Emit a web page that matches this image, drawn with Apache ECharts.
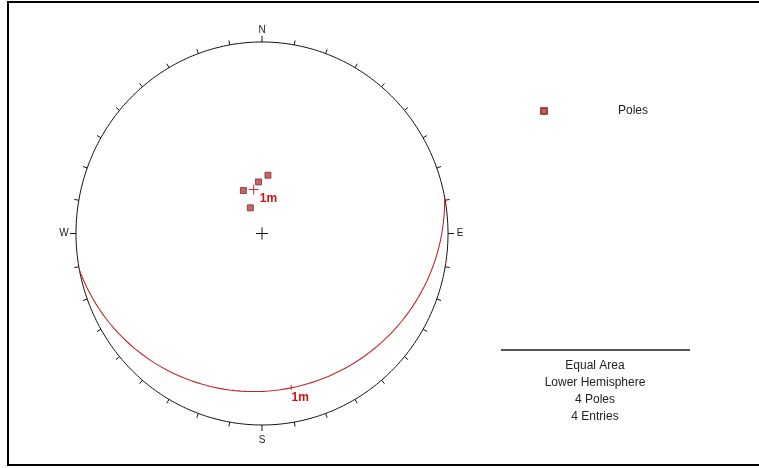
<!DOCTYPE html>
<html>
<head>
<meta charset="utf-8">
<script src="https://cdn.jsdelivr.net/npm/echarts@6/dist/echarts.min.js"></script>
<style>
  html, body { margin: 0; padding: 0; background: #fff; }
  #chart { width: 759px; height: 468px; }
</style>
</head>
<body>
<div id="chart"></div>
<script>
// Pole orientations (degrees): trend and plunge of each pole
const poleTrend = [6, 356, 336, 335];
const polePlunge = [65, 68, 70, 78];

// Mean pole set "1m" (trend, plunge) and its label
const meanPole = [349, 71];
const meanLabel = '1m';

// Net ticks and cardinal labels
const tickAzimuths = [0, 10, 20, 30, 40, 50, 60, 70, 80, 90, 100, 110, 120, 130, 140, 150, 160, 170,
                      180, 190, 200, 210, 220, 230, 240, 250, 260, 270, 280, 290, 300, 310, 320, 330, 340, 350];
const cardinalNames = ['N', 'E', 'S', 'W'];
const cardinalAzimuths = [0, 90, 180, 270];

// Information block
const infoLines = ['Equal Area', 'Lower Hemisphere', '4 Poles', '4 Entries'];

const RAD = Math.PI / 180;
const FONT = '"Liberation Sans", Arial, sans-serif';

// Lambert equal-area projection, lower hemisphere, primitive radius = 1
function projectLine(trend, plunge) {
  const r = Math.sqrt(1 - Math.sin(plunge * RAD));
  return [r * Math.sin(trend * RAD), r * Math.cos(trend * RAD)];
}

// Project a direction vector (east, north, down)
function projectVector(e, n, d) {
  const h = Math.sqrt(e * e + n * n);
  const r = Math.sqrt(Math.max(0, 1 - d));
  if (h < 1e-9) return [0, 0];
  return [r * e / h, r * n / h];
}

const polePoints = poleTrend.map((t, i) => projectLine(t, polePlunge[i]));
const meanPoint = projectLine(meanPole[0], meanPole[1]);

// Great circle of the plane whose pole is the mean pole
const dipDir = (meanPole[0] + 180) % 360;
const dip = 90 - meanPole[1];
const strikeAz = dipDir - 90;
const greatCircle = [];
for (let t = 0; t <= 180; t += 2) {
  const c = Math.cos(t * RAD), s = Math.sin(t * RAD);
  const e = c * Math.sin(strikeAz * RAD) + s * Math.sin(dipDir * RAD) * Math.cos(dip * RAD);
  const n = c * Math.cos(strikeAz * RAD) + s * Math.cos(dipDir * RAD) * Math.cos(dip * RAD);
  const d = s * Math.sin(dip * RAD);
  greatCircle.push(projectVector(e, n, d));
}
const dipPoint = projectVector(Math.sin(dipDir * RAD) * Math.cos(dip * RAD),
                               Math.cos(dipDir * RAD) * Math.cos(dip * RAD),
                               Math.sin(dip * RAD));

const chart = echarts.init(document.getElementById('chart'), null, { renderer: 'canvas' });

function renderNet(params, api) {
  const children = [];
  // primitive circle
  const ring = [];
  for (let a = 0; a <= 360; a += 1) {
    ring.push(api.coord([Math.sin(a * RAD), Math.cos(a * RAD)]));
  }
  children.push({ type: 'polyline', shape: { points: ring },
    style: { stroke: '#111', lineWidth: 1, fill: null } });
  // ticks
  tickAzimuths.forEach(a => {
    const p = api.coord([Math.sin(a * RAD), Math.cos(a * RAD)]);
    const dx = Math.sin(a * RAD), dy = -Math.cos(a * RAD);
    const isCardinal = cardinalAzimuths.indexOf(a) >= 0;
    const len = isCardinal ? 6 : 4.5;
    children.push({ type: 'line',
      shape: { x1: p[0], y1: p[1], x2: p[0] + dx * len, y2: p[1] + dy * len },
      style: { stroke: '#111', lineWidth: 1 } });
  });
  // cardinal labels
  cardinalAzimuths.forEach((a, i) => {
    const p = api.coord([Math.sin(a * RAD), Math.cos(a * RAD)]);
    const dx = Math.sin(a * RAD), dy = -Math.cos(a * RAD);
    const off = a === 180 ? 15 : 12;
    children.push({ type: 'text',
      style: { text: cardinalNames[i], x: p[0] + dx * off, y: p[1] + dy * off,
               align: 'center', verticalAlign: 'middle',
               font: '10px ' + FONT, fill: '#222' } });
  });
  // centre cross
  const c = api.coord([0, 0]);
  children.push({ type: 'line', shape: { x1: c[0] - 6, y1: c[1], x2: c[0] + 6, y2: c[1] },
    style: { stroke: '#111', lineWidth: 1 } });
  children.push({ type: 'line', shape: { x1: c[0], y1: c[1] - 6, x2: c[0], y2: c[1] + 6 },
    style: { stroke: '#111', lineWidth: 1 } });
  return { type: 'group', children: children };
}

function renderMean(params, api) {
  const m = api.coord(meanPoint);
  const g = api.coord(dipPoint);
  return { type: 'group', children: [
    { type: 'line', shape: { x1: m[0] - 5, y1: m[1], x2: m[0] + 5, y2: m[1] },
      style: { stroke: '#c02828', lineWidth: 1 } },
    { type: 'line', shape: { x1: m[0], y1: m[1] - 5, x2: m[0], y2: m[1] + 5 },
      style: { stroke: '#c02828', lineWidth: 1 } },
    { type: 'text', style: { text: meanLabel, x: m[0] + 6, y: m[1] + 9, align: 'left',
      verticalAlign: 'middle', font: 'bold 12px ' + FONT, fill: '#d01010' } },
    { type: 'line', shape: { x1: g[0], y1: g[1] - 3, x2: g[0], y2: g[1] + 2 },
      style: { stroke: '#c02828', lineWidth: 1 } },
    { type: 'text', style: { text: meanLabel, x: g[0] + 9, y: g[1] + 10, align: 'center',
      verticalAlign: 'middle', font: 'bold 12px ' + FONT, fill: '#d01010' } }
  ] };
}

const infoCenterX = 595;
const graphics = [
  { type: 'rect', shape: { x: 8, y: 2, width: 760, height: 463 },
    style: { stroke: '#000', lineWidth: 2, fill: null }, silent: true },
  { type: 'line', shape: { x1: 501, y1: 350, x2: 690, y2: 350 },
    style: { stroke: '#555', lineWidth: 2 }, silent: true }
];
infoLines.forEach((t, i) => {
  graphics.push({ type: 'text', x: infoCenterX, y: 366 + i * 17,
    style: { text: t, align: 'center', verticalAlign: 'middle', font: '12px ' + FONT, fill: '#222' },
    silent: true });
});

chart.setOption({
  animation: false,
  backgroundColor: '#fff',
  grid: { left: 76, top: 42, width: 372, height: 383, containLabel: false },
  xAxis: { type: 'value', min: -1, max: 1, show: false },
  yAxis: { type: 'value', min: -1, max: 1, show: false },
  legend: {
    data: ['Poles'], left: 535, top: 100, icon: 'rect', itemWidth: 6, itemHeight: 6,
    textStyle: { fontFamily: FONT, fontSize: 12, color: '#222', padding: [0, 0, 0, 66] },
    selectedMode: false
  },
  graphic: graphics,
  series: [
    { type: 'custom', name: 'net', data: [[0, 0]], renderItem: renderNet, silent: true, z: 1 },
    { type: 'line', name: 'mean plane', data: greatCircle, showSymbol: false, smooth: false,
      lineStyle: { color: '#c02828', width: 1.1 }, silent: true, z: 2 },
    { type: 'scatter', name: 'Poles', data: polePoints, symbol: 'rect', symbolSize: 6,
      itemStyle: { color: '#b5403e', borderColor: '#8a2a2a', borderWidth: 1 }, z: 3 },
    { type: 'custom', name: 'mean', data: [[0, 0]], renderItem: renderMean, silent: true, z: 4 }
  ]
});
</script>
</body>
</html>
